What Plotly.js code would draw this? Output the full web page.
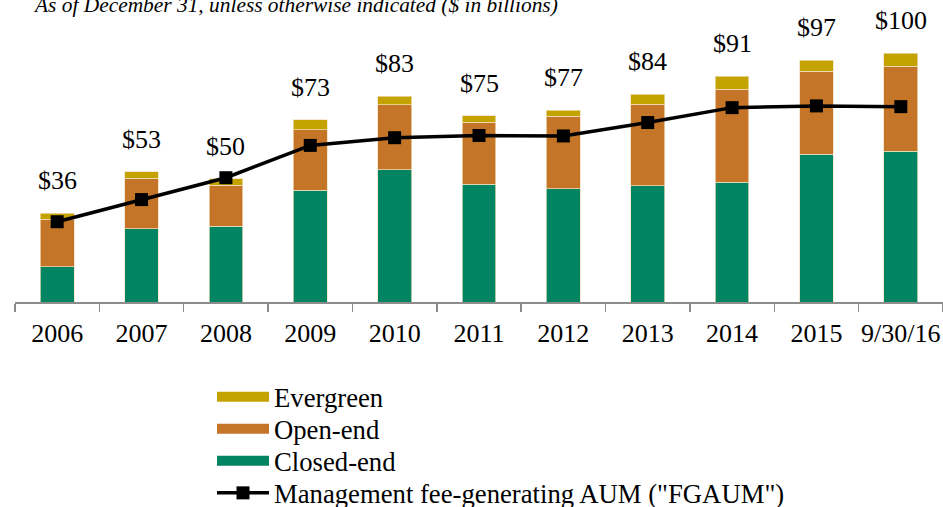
<!DOCTYPE html>
<html>
<head>
<meta charset="utf-8">
<script src="https://cdn.plot.ly/plotly-3.0.1.min.js"></script>
<style>
  html, body { margin: 0; padding: 0; background: #fff; }
  #chart { width: 943px; height: 507px; }
</style>
</head>
<body>
<div id="chart"></div>
<script>
// ---- Data ($ in billions) ----
const categories = ['2006', '2007', '2008', '2009', '2010', '2011', '2012', '2013', '2014', '2015', '9/30/16'];
const closedEnd = [14.1, 29.4, 30.4, 44.9, 53.3, 47.3, 45.5, 46.7, 48.1, 59.5, 60.6];
const openEnd   = [19.1, 20.3, 16.6, 24.5, 26.1, 25.1, 29.2, 32.9, 37.5, 33.3, 34.3];
const evergreen = [2.6, 2.7, 2.65, 3.9, 3.4, 2.5, 2.4, 4.0, 5.3, 4.5, 5.1];
const fgaum     = [32.3, 41.2, 50.0, 63.0, 66.1, 67.0, 66.8, 72.2, 78.2, 78.9, 78.6];
const totalLabels = ['$36', '$53', '$50', '$73', '$83', '$75', '$77', '$84', '$91', '$97', '$100'];

const seriesNames = ['Evergreen', 'Open-end', 'Closed-end', 'Management fee-generating AUM ("FGAUM")'];
const titleText = 'As of December 31, unless otherwise indicated ($ in billions)';

// ---- Styles ----
const FONT = '"Liberation Serif", "Times New Roman", serif';
const C_GREEN = '#008462';
const C_ORANGE = '#C47528';
const C_GOLD = '#C4A300';
const EDGE = { color: 'rgba(240,225,190,0.9)', width: 0.8 };

const stackTotals = categories.map((_, i) => closedEnd[i] + openEnd[i] + evergreen[i]);

function barTrace(name, vals, color) {
  return {
    type: 'bar', x: categories, y: vals, name: name,
    marker: { color: color, line: EDGE },
    showlegend: false, hoverinfo: 'skip'
  };
}
// legend-only swatch entries (no visible data)
function legendSwatch(name, color, legendId) {
  return {
    type: 'scatter', mode: 'lines', x: [categories[0]], y: [null], name: name,
    line: { color: color, width: 13 }, legend: legendId, showlegend: true, hoverinfo: 'skip'
  };
}

const traces = [
  barTrace(seriesNames[2], closedEnd, C_GREEN),
  barTrace(seriesNames[1], openEnd, C_ORANGE),
  barTrace(seriesNames[0], evergreen, C_GOLD),
  {
    type: 'scatter', mode: 'lines+markers', x: categories, y: fgaum, name: seriesNames[3],
    line: { color: '#000', width: 3.5 },
    marker: { symbol: 'square', size: 13, color: '#000' },
    legend: 'legend4', hoverinfo: 'skip'
  },
  legendSwatch(seriesNames[0], C_GOLD, 'legend'),
  legendSwatch(seriesNames[1], C_ORANGE, 'legend2'),
  legendSwatch(seriesNames[2], C_GREEN, 'legend3')
];

const W = 943, H = 507;
const legendX = 212 / W;
function legendAt(ypx) {
  return {
    orientation: 'h',
    xref: 'container', yref: 'container', x: legendX, y: 1 - ypx / H,
    xanchor: 'left', yanchor: 'middle', itemwidth: 52,
    font: { family: FONT, size: 26.7, color: '#000' },
    bgcolor: 'rgba(0,0,0,0)', borderwidth: 0
  };
}

// total labels above each stack (x given as category index)
const annotations = categories.map((c, i) => ({
  x: i, y: stackTotals[i], text: totalLabels[i], showarrow: false,
  xref: 'x', yref: 'y', yanchor: 'middle', yshift: 32.5,
  font: { family: FONT, size: 26, color: '#000' }
}));

const layout = {
  width: W, height: H,
  margin: { l: 15, r: 0, t: 0, b: 204.5, pad: 0 },
  paper_bgcolor: '#fff', plot_bgcolor: '#fff',
  barmode: 'stack', bargap: 0.6,
  font: { family: FONT, color: '#000' },
  title: {
    text: '<i>' + titleText + '</i>',
    font: { family: FONT, size: 21.4, color: '#000' },
    xref: 'container', yref: 'container', x: 35 / W, xanchor: 'left',
    y: 1 - 4 / H, yanchor: 'middle'
  },
  xaxis: {
    type: 'category', categoryorder: 'array', categoryarray: categories,
    range: [-0.5, categories.length - 0.5], autorange: false,
    showline: true, linecolor: '#8c8c8c', linewidth: 1.5,
    ticks: 'outside', tickson: 'boundaries', ticklen: 8, tickcolor: '#8c8c8c', tickwidth: 1.5,
    tickangle: 0, ticklabelstandoff: 7,
    tickfont: { family: FONT, size: 26, color: '#000' }, showgrid: false, zeroline: false
  },
  yaxis: {
    range: [0, 121.5], autorange: false, visible: false, showgrid: false, zeroline: false
  },
  legend: legendAt(397),
  legend2: legendAt(429),
  legend3: legendAt(461),
  legend4: legendAt(493),
  annotations: annotations,
  showlegend: true
};

Plotly.newPlot('chart', traces, layout, { displayModeBar: false, staticPlot: true });
</script>
</body>
</html>
